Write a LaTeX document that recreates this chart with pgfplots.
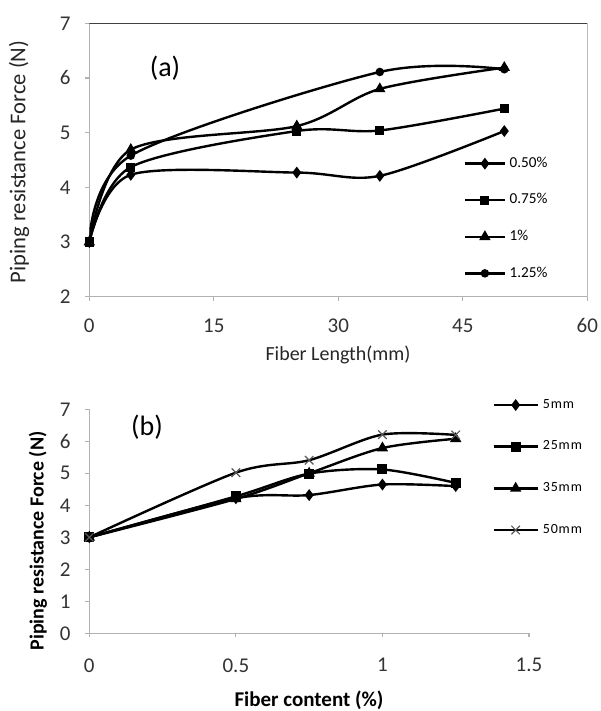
\documentclass[border=0pt]{standalone}
\usepackage{fontspec}
\setmainfont{Carlito}
\usepackage{pgfplots}
\pgfplotsset{compat=1.18}

\pgfplotsset{
  pipe/.style={
    scale only axis, axis lines=left, enlargelimits=false,
    axis line style={-, gray!60, line width=0.6pt},
    tick style={gray!60, line width=0.6pt},
    tick align=outside, major tick length=2pt,
    xtick pos=left, ytick pos=left,
    /pgf/number format/assume math mode=true,
    tick label style={font=\fontsize{10.5}{12}\selectfont, text=black!80},
    yticklabel style={xshift=-3.8pt},
    every axis plot/.append style={black, line width=1.2pt, smooth},
    legend cell align=left,
  },
}

\begin{document}
\begin{tikzpicture}
\path[use as bounding box] (0,0) rectangle (300pt,-355.5pt);

% (a) fibre length
\begin{axis}[pipe,
  at={(44.65pt,-148.35pt)}, anchor=south west,
  width=249pt, height=136.7pt,
  xmin=0, xmax=60, ymin=2, ymax=7,
  xtick={0,15,30,45,60}, ytick={2,3,4,5,6,7},
  xticklabel style={yshift=-5.4pt},
  legend style={draw=none, fill=none, at={(0.752,0.286)}, anchor=west,
    font=\fontsize{7.6}{8}\selectfont, row sep=7.6pt, inner sep=0pt},
  legend image code/.code={\draw[mark repeat=2,mark phase=2,#1]
    plot coordinates {(0pt,0pt) (9.75pt,0pt) (19.5pt,0pt)};},
]
\addplot[mark=diamond*, mark size=2pt] coordinates {(0,3) (5,4.23) (25,4.27) (35,4.21) (50,5.03)};
\addlegendentry{0.50\%}
\addplot[mark=square*, mark size=1.7pt] coordinates {(0,3) (5,4.37) (25,5.03) (35,5.04) (50,5.44)};
\addlegendentry{0.75\%}
\addplot[mark=triangle*, mark size=2.1pt] coordinates {(0,3) (5,4.69) (25,5.12) (35,5.80) (50,6.19)};
\addlegendentry{1\%}
\addplot[mark=*, mark size=1.5pt] coordinates {(0,3) (5,4.58) (35,6.11) (50,6.16)};
\addlegendentry{1.25\%}
\draw[black!75, line width=0.6pt] (rel axis cs:0,1) -- (rel axis cs:1,1) -- (rel axis cs:1,0);
\end{axis}

% (b) fibre content
\begin{axis}[pipe,
  at={(44.65pt,-316.65pt)}, anchor=south west,
  width=219.85pt, height=112pt,
  xmin=0, xmax=1.5, ymin=0, ymax=7,
  xtick={0,0.5,1,1.5}, ytick={0,1,...,7},
  xticklabel style={yshift=-7pt},
  legend style={draw=none, fill=none, at={(0.916,0.740)}, anchor=west,
    font=\fontsize{7}{8}\selectfont\addfontfeature{LetterSpace=6}, row sep=10.8pt, inner sep=0pt},
  legend image code/.code={\draw[mark repeat=2,mark phase=2,#1]
    plot coordinates {(0pt,0pt) (11pt,0pt) (22pt,0pt)};},
]
\addplot[mark=diamond*, mark size=2pt] coordinates {(0,3) (0.5,4.22) (0.75,4.32) (1,4.65) (1.25,4.6)};
\addlegendentry{5mm}
\addplot[mark=square*, mark size=1.9pt] coordinates {(0,3) (0.5,4.28) (0.75,4.99) (1,5.12) (1.25,4.7)};
\addlegendentry{25mm}
\addplot[mark=triangle*, mark size=2.1pt] coordinates {(0,3) (0.5,4.2) (0.75,5.0) (1,5.79) (1.25,6.08)};
\addlegendentry{35mm}
\addplot[mark=x, mark size=3pt, mark options={draw=gray!70!black, line width=0.6pt}] coordinates {(0,3) (0.5,5.02) (0.75,5.41) (1,6.21) (1.25,6.2)};
\addlegendentry{50mm}
\end{axis}

\node[font=\fontsize{14}{16}\selectfont] at (82.5pt,-34pt) {(a)};
\node[font=\fontsize{14}{16}\selectfont] at (73.5pt,-213.5pt) {(b)};
\node[rotate=90, font=\fontsize{11.3}{13}\selectfont, text=black!85] at (9.5pt,-81pt) {Piping resistance Force (N)};
\node[font=\fontsize{10}{12}\selectfont, text=black!85] at (169pt,-177.5pt) {Fiber Length(mm)};
\node[rotate=90, font=\fontsize{10}{12}\selectfont\bfseries] at (19pt,-270.5pt) {Piping resistance Force (N)};
\node[font=\fontsize{10.5}{12}\selectfont\bfseries] at (154.5pt,-350pt) {Fiber content (\%)};
\end{tikzpicture}
\end{document}
